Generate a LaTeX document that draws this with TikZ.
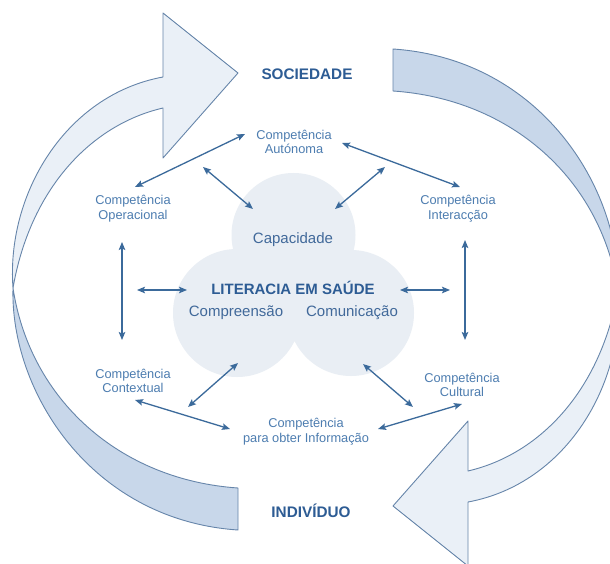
\documentclass[tikz,border=0pt]{standalone}
\usepackage{fontspec}
\setmainfont{Liberation Sans}
\usetikzlibrary{arrows.meta}
\definecolor{titleblue}{HTML}{2D5C94}
\definecolor{compblue}{HTML}{4D7DB0}
\definecolor{cloudtext}{HTML}{41699A}
\definecolor{cloudfill}{HTML}{E9EEF4}
\definecolor{arrowline}{HTML}{3B6A9B}
\definecolor{lightfill}{HTML}{EAF0F7}
\definecolor{darkfill}{HTML}{C8D7EA}
\definecolor{ribbonline}{HTML}{6685AA}
\begin{document}
\begin{tikzpicture}[x=1pt,y=-1pt,
  title/.style={font=\fontsize{15.3}{18}\selectfont\bfseries, text=titleblue, inner sep=0pt},
  comp/.style={font=\fontsize{12.8}{14.8}\selectfont, text=compblue, align=center, inner sep=0pt},
  cloudlbl/.style={font=\fontsize{15}{18}\selectfont, text=cloudtext, inner sep=0pt},
  cloudtitle/.style={font=\fontsize{15}{18}\selectfont\bfseries, text=titleblue, inner sep=0pt},
  link/.style={draw=arrowline, line width=1.3pt, {Stealth[length=8pt,width=6.5pt,inset=1.5pt]}-{Stealth[length=8pt,width=6.5pt,inset=1.5pt]}},
  lightpart/.style={fill=lightfill, draw=ribbonline, line width=0.9pt, line join=round},
  darkpart/.style={fill=darkfill, draw=ribbonline, line width=0.9pt, line join=round}]
\useasboundingbox (0,0) rectangle (610,564);
\clip (0,0) rectangle (610,564);
\fill[white] (0,0) rectangle (610,564);

% ribbon arrows (left one, and the same turned round the centre)
\foreach \ang in {0,180}{
\begin{scope}[rotate around={\ang:(315.5,289.5)}]
  \path[darkpart] (13,288) .. controls (10,390) and (90,520) .. (238,530)
        -- (238,488) .. controls (120,480) and (30,400) .. (13,288) -- cycle;
  \path[lightpart] (13,288) .. controls (6,195) and (65,95) .. (163,77)
        -- (163,13) -- (238,73) -- (163,158) -- (163,108)
        .. controls (90,125) and (30,190) .. (13,288) -- cycle;
\end{scope}
}

% cloud
\fill[cloudfill] (293.5,235) circle[radius=62pt] (237,313) circle[radius=64pt] (351,313) circle[radius=63pt];

% texts
\node[title] (soc) at (307,74) {SOCIEDADE};
\node[title] (ind) at (311,511) {INDIVÍDUO};
\node[comp] (aut) at (294,142) {Competência\\Autónoma};
\node[comp] (ope) at (133,209) {Competência\\Operacional};
\node[comp] (int) at (458,209) {Competência\\Interacção};
\node[comp] (ctx) at (133,381) {Competência\\Contextual};
\node[comp] (cul) at (462,385) {Competência\\Cultural};
\node[comp] (inf) at (306,432) {Competência\\para obter Informação};
\node[cloudlbl] (cap) at (293,240) {Capacidade};
\node[cloudtitle] (lit) at (293,288) {LITERACIA EM SAÚDE};
\node[cloudlbl] (cpr) at (236,313) {Compreensão};
\node[cloudlbl] (com) at (352,313) {Comunicação};

% arrow end points
\coordinate (a1s) at (135,187); \coordinate (a1e) at (245,134);
\coordinate (a2s) at (203,167); \coordinate (a2e) at (253,209);
\coordinate (a3s) at (342,143); \coordinate (a3e) at (460,187);
\coordinate (a4s) at (385,167); \coordinate (a4e) at (335,209);
\coordinate (a5s) at (122,242); \coordinate (a5e) at (122,340);
\coordinate (a6s) at (137,290); \coordinate (a6e) at (187,290);
\coordinate (a7s) at (400,290); \coordinate (a7e) at (450,290);
\coordinate (a8s) at (465,240); \coordinate (a8e) at (465,340);
\coordinate (a9s) at (135,400); \coordinate (a9e) at (230,429);
\coordinate (a10s) at (188,407); \coordinate (a10e) at (238,363);
\coordinate (a11s) at (363,364); \coordinate (a11e) at (413,407);
\coordinate (a12s) at (462,404); \coordinate (a12e) at (378,429);

\foreach \i in {1,...,12}{
  \draw[link] (a\i s) -- (a\i e);
}
\end{tikzpicture}
\end{document}
